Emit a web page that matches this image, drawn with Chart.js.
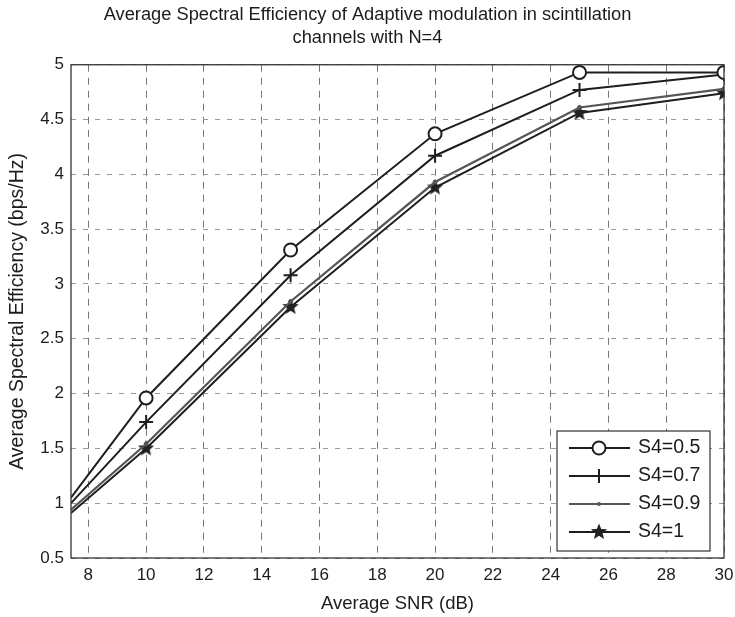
<!DOCTYPE html>
<html>
<head>
<meta charset="utf-8">
<script src="https://cdn.jsdelivr.net/npm/chart.js@4.4.1/dist/chart.umd.min.js"></script>
<style>
  body { margin: 0; background: #fff; }
  #wrap { width: 735px; height: 617px; position: relative; }
</style>
</head>
<body>
<div id="wrap"><canvas id="seChart"></canvas></div>
<script>
// Data
const snr = [7.4, 10, 15, 20, 25, 30];
const s4_05 = [1.05, 1.96, 3.31, 4.37, 4.93, 4.93];
const s4_07 = [1.0, 1.74, 3.08, 4.17, 4.77, 4.91];
const s4_09 = [0.94, 1.54, 2.84, 3.93, 4.61, 4.78];
const s4_1 = [0.91, 1.5, 2.79, 3.88, 4.56, 4.74];
const xTicks = [8, 10, 12, 14, 16, 18, 20, 22, 24, 26, 28, 30];
const seriesNames = ['S4=0.5', 'S4=0.7', 'S4=0.9', 'S4=1'];

const FONT = "'Liberation Sans', Arial, sans-serif";
const INK = '#1c1c1c';

// filled pentagram marker (matlab 'p')
function makeStar(size) {
  const c = document.createElement('canvas');
  c.width = size; c.height = size;
  const g = c.getContext('2d');
  const r = size / 2, ri = r * 0.42;
  g.beginPath();
  for (let i = 0; i < 10; i++) {
    const rad = i % 2 ? ri : r - 0.5;
    const a = -Math.PI / 2 + i * Math.PI / 5;
    g.lineTo(r + rad * Math.cos(a), r + rad * Math.sin(a));
  }
  g.closePath();
  g.fillStyle = '#222';
  g.fill();
  return c;
}
const star = makeStar(18);

function pts(values) {
  return snr.map((x, i) => ({ x: x, y: values[i] }));
}

// no marker on the first (clipped) point
const hideFirst = (r) => (ctx) => ctx.dataIndex === 0 ? 0 : r;

const datasets = [
  { label: seriesNames[0], data: pts(s4_05), borderColor: '#1e1e1e', borderWidth: 2,
    pointStyle: 'circle', pointRadius: hideFirst(6.5), pointBorderWidth: 2,
    pointBackgroundColor: '#fff', pointBorderColor: '#1e1e1e' },
  { label: seriesNames[1], data: pts(s4_07), borderColor: '#1e1e1e', borderWidth: 2,
    pointStyle: 'cross', pointRadius: hideFirst(7), pointBorderWidth: 2,
    pointBorderColor: '#1e1e1e' },
  { label: seriesNames[2], data: pts(s4_09), borderColor: '#555', borderWidth: 2.2,
    pointStyle: 'circle', pointRadius: hideFirst(2), pointBorderWidth: 1,
    pointBackgroundColor: '#555', pointBorderColor: '#555' },
  { label: seriesNames[3], data: pts(s4_1), borderColor: '#1e1e1e', borderWidth: 2,
    pointStyle: star, pointRadius: hideFirst(9) }
];

// box round the axes + matlab style legend in the lower right
const framePlugin = {
  id: 'frame',
  afterDatasetsDraw(chart) {
    const { ctx, chartArea: a } = chart;
    ctx.save();
    ctx.strokeStyle = '#333';
    ctx.lineWidth = 1.3;
    ctx.strokeRect(a.left, a.top, a.right - a.left, a.bottom - a.top);

    // legend
    const bx = 557, by = 431, bw = 153, bh = 120;
    ctx.fillStyle = '#fff';
    ctx.fillRect(bx, by, bw, bh);
    ctx.strokeStyle = '#333';
    ctx.lineWidth = 1.2;
    ctx.strokeRect(bx, by, bw, bh);
    ctx.font = '19.5px ' + FONT;
    ctx.textBaseline = 'middle';
    chart.data.datasets.forEach((ds, i) => {
      const y = by + 17 + i * 28;
      ctx.strokeStyle = ds.borderColor;
      ctx.lineWidth = ds.borderWidth;
      ctx.beginPath();
      ctx.moveTo(bx + 12, y);
      ctx.lineTo(bx + 73, y);
      ctx.stroke();
      const cx = bx + 42;
      if (ds.pointStyle === 'circle' && i === 0) {
        ctx.fillStyle = '#fff';
        ctx.beginPath(); ctx.arc(cx, y, 6.5, 0, Math.PI * 2); ctx.fill(); ctx.stroke();
      } else if (ds.pointStyle === 'cross') {
        ctx.beginPath();
        ctx.moveTo(cx, y - 7); ctx.lineTo(cx, y + 7);
        ctx.stroke();
      } else if (ds.pointStyle === 'circle') {
        ctx.fillStyle = ds.borderColor;
        ctx.beginPath(); ctx.arc(cx, y, 2, 0, Math.PI * 2); ctx.fill();
      } else {
        ctx.drawImage(star, cx - 9, y - 9);
      }
      ctx.fillStyle = INK;
      ctx.fillText(ds.label, bx + 81, y);
    });
    ctx.restore();
  }
};

new Chart(document.getElementById('seChart'), {
  type: 'line',
  data: { datasets: datasets },
  options: {
    responsive: true,
    maintainAspectRatio: false,
    animation: false,
    layout: { padding: { top: 4, right: 0, left: 0, bottom: 0 } },
    elements: { line: { tension: 0 } },
    plugins: {
      legend: { display: false },
      tooltip: { enabled: false },
      title: {
        display: true,
        text: ['Average Spectral Efficiency of Adaptive modulation in scintillation', 'channels with N=4'],
        color: INK,
        font: { family: FONT, size: 18.3, weight: 'normal', lineHeight: 1.25 },
        padding: { top: 0, bottom: 15 }
      }
    },
    scales: {
      x: {
        type: 'linear',
        min: 7.4,
        max: 30,
        afterBuildTicks: (scale) => { scale.ticks = xTicks.map(v => ({ value: v })); },
        afterFit: (scale) => { scale.height = 59; scale.paddingRight = 8; scale.paddingLeft = 0; },
        grid: { color: '#777', lineWidth: 1, drawTicks: false },
        border: { display: false, dash: [7, 6] },
        ticks: { color: INK, padding: 7, maxRotation: 0, font: { family: FONT, size: 17 } },
        title: { display: true, text: 'Average SNR (dB)', color: INK,
          font: { family: FONT, size: 18.5 }, padding: { top: 0, bottom: 2 } }
      },
      y: {
        min: 0.5,
        max: 5,
        afterFit: (scale) => { scale.width = 71; },
        grid: { color: '#999', lineWidth: 1, drawTicks: false },
        border: { display: false, dash: [5, 7] },
        ticks: { stepSize: 0.5, color: INK, padding: 7, font: { family: FONT, size: 17 },
          callback: (v) => String(v) },
        title: { display: true, text: 'Average Spectral Efficiency (bps/Hz)', color: INK,
          font: { family: FONT, size: 19.5 }, padding: { top: 6, bottom: 0 } }
      }
    }
  },
  plugins: [framePlugin]
});
</script>
</body>
</html>
